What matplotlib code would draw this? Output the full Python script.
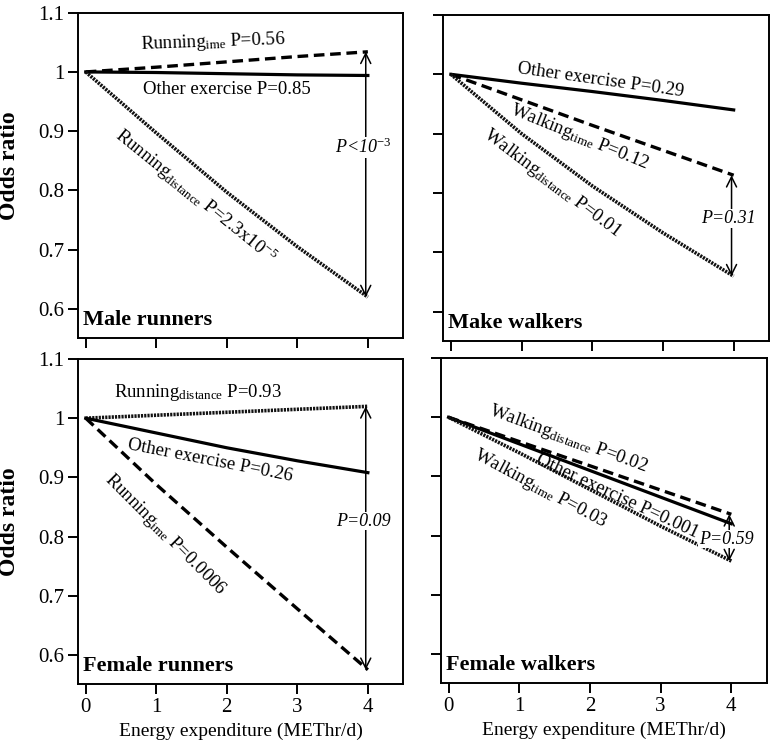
import numpy as np
import matplotlib
matplotlib.use("Agg")
import matplotlib.pyplot as plt

plt.rcParams['font.family'] = ['Liberation Serif', 'DejaVu Serif']
plt.rcParams['mathtext.fontset'] = 'custom'
plt.rcParams['mathtext.rm'] = 'Liberation Serif'
plt.rcParams['mathtext.it'] = 'Liberation Serif:italic'
plt.rcParams['mathtext.bf'] = 'Liberation Serif:bold'

# energy expenditure (METhr/d)
energy = [0, 1, 2, 3, 4]
yticks = [0.6, 0.7, 0.8, 0.9, 1.0, 1.1]
ytick_labels = ['0.6', '0.7', '0.8', '0.9', '1', '1.1']

# male runners
mr_time = [1.0, 1.008, 1.017, 1.026, 1.034]
mr_other = [1.0, 0.999, 0.997, 0.995, 0.994]
mr_distance = [1.0, 0.897, 0.797, 0.705, 0.62]

# male walkers
mw_other = [1.0, 0.985, 0.971, 0.956, 0.94]
mw_time = [1.0, 0.957, 0.914, 0.872, 0.83]
mw_distance = [1.0, 0.9, 0.812, 0.733, 0.66]

# female runners
fr_distance = [1.0, 1.005, 1.01, 1.015, 1.02]
fr_other = [1.0, 0.975, 0.95, 0.928, 0.908]
fr_time = [1.0, 0.888, 0.782, 0.678, 0.575]

# female walkers
fw_distance = [1.0, 0.959, 0.918, 0.877, 0.836]
fw_other = [1.0, 0.955, 0.91, 0.865, 0.82]
fw_time = [1.0, 0.94, 0.878, 0.816, 0.757]

SOLID = dict(color='black', lw=2.3, ls='-')
DASH = dict(color='black', lw=2.4, ls=(0, (3.2, 1.7)))
DOT = dict(color='#111111', lw=2.6, ls=(0, (0.6, 0.3)))


def setup(ax, left_lab, bottom_lab, title, ylab_y=0.5):
    ax.set_xlim(-0.11, 4.5)
    ax.set_ylim(0.551, 1.1)
    ax.set_xticks(energy)
    ax.set_yticks(yticks)
    ax.set_yticklabels(ytick_labels if left_lab else [])
    if not bottom_lab:
        ax.set_xticklabels([])
    ax.tick_params(direction='out', length=7, width=1.4, labelsize=15, pad=3)
    for s in ax.spines.values():
        s.set_linewidth(1.4)
    if left_lab:
        ax.set_ylabel('Odds ratio', fontsize=17, fontweight='bold')
        ax.yaxis.set_label_coords(-0.178, ylab_y)
    if bottom_lab:
        ax.set_xlabel('Energy expenditure (METhr/d)', fontsize=14, labelpad=4)
    ax.text(0.015, 0.055, title, transform=ax.transAxes, fontsize=16,
            fontweight='bold', va='center', ha='left')


def arrow(ax, x, y1, y2, label, ty):
    ax.annotate('', xy=(x, y1), xytext=(x, y2),
                arrowprops=dict(arrowstyle='<->', lw=1.1, color='black',
                                mutation_scale=18, shrinkA=0, shrinkB=0))
    ax.text(x - 0.04, ty, label, fontsize=13, style='italic', ha='center',
            va='center', bbox=dict(facecolor='white', edgecolor='none', pad=0.5))


def lab(ax, x, y, s, rot=0):
    ax.text(x, y, s, fontsize=13.5, rotation=rot, rotation_mode='anchor',
            ha='center', va='center')


fig = plt.figure(figsize=(7.76, 7.46), dpi=100)
ax1 = fig.add_axes([0.1005, 0.547, 0.419, 0.436])
ax2 = fig.add_axes([0.571, 0.543, 0.420, 0.437])
ax3 = fig.add_axes([0.1005, 0.0831, 0.419, 0.4357])
ax4 = fig.add_axes([0.568, 0.0845, 0.420, 0.4355])

# Male runners
ax1.plot(energy, mr_time, **DASH)
ax1.plot(energy, mr_other, **SOLID)
ax1.plot(energy, mr_distance, **DOT)
setup(ax1, True, False, 'Male runners', ylab_y=0.53)
arrow(ax1, 3.97, mr_time[-1], mr_distance[-1], 'P<10$^{-3}$', 0.873)
lab(ax1, 1.8, 1.05, 'Running$_{\\mathrm{ime}}$ P=0.56', 2)
lab(ax1, 2.0, 0.971, 'Other exercise P=0.85')
lab(ax1, 1.55, 0.79, 'Running$_{\\mathrm{distance}}$ P=2.3x10$^{-5}$', -39)

# Male walkers
ax2.plot(energy, mw_other, **SOLID)
ax2.plot(energy, mw_time, **DASH)
ax2.plot(energy, mw_distance, **DOT)
setup(ax2, False, False, 'Make walkers')
arrow(ax2, 3.97, mw_time[-1], mw_distance[-1], 'P=0.31', 0.757)
lab(ax2, 2.12, 0.99, 'Other exercise P=0.29', -8)
lab(ax2, 1.82, 0.894, 'Walking$_{\\mathrm{time}}$ P=0.12', -22)
lab(ax2, 1.44, 0.817, 'Walking$_{\\mathrm{distance}}$ P=0.01', -37)

# Female runners
ax3.plot(energy, fr_distance, **DOT)
ax3.plot(energy, fr_other, **SOLID)
ax3.plot(energy, fr_time, **DASH)
setup(ax3, True, True, 'Female runners')
arrow(ax3, 3.97, fr_distance[-1], fr_time[-1], 'P=0.09', 0.826)
lab(ax3, 1.59, 1.044, 'Running$_{\\mathrm{distance}}$ P=0.93')
lab(ax3, 1.76, 0.929, 'Other exercise P=0.26', -11)
lab(ax3, 1.12, 0.804, 'Running$_{\\mathrm{ime}}$ P=0.0006', -45)

# Female walkers
ax4.plot(energy, fw_distance, **DASH)
ax4.plot(energy, fw_other, **SOLID)
ax4.plot(energy, fw_time, **DOT)
setup(ax4, False, True, 'Female walkers')
arrow(ax4, 3.97, fw_distance[-1], fw_time[-1], 'P=0.59', 0.794)
lab(ax4, 1.69, 0.963, 'Walking$_{\\mathrm{distance}}$ P=0.02', -20)
lab(ax4, 2.38, 0.867, 'Other exercise P=0.001', -25)
lab(ax4, 1.3, 0.879, 'Walking$_{\\mathrm{time}}$ P=0.03', -28)

fig.savefig('out.png', dpi=100)
